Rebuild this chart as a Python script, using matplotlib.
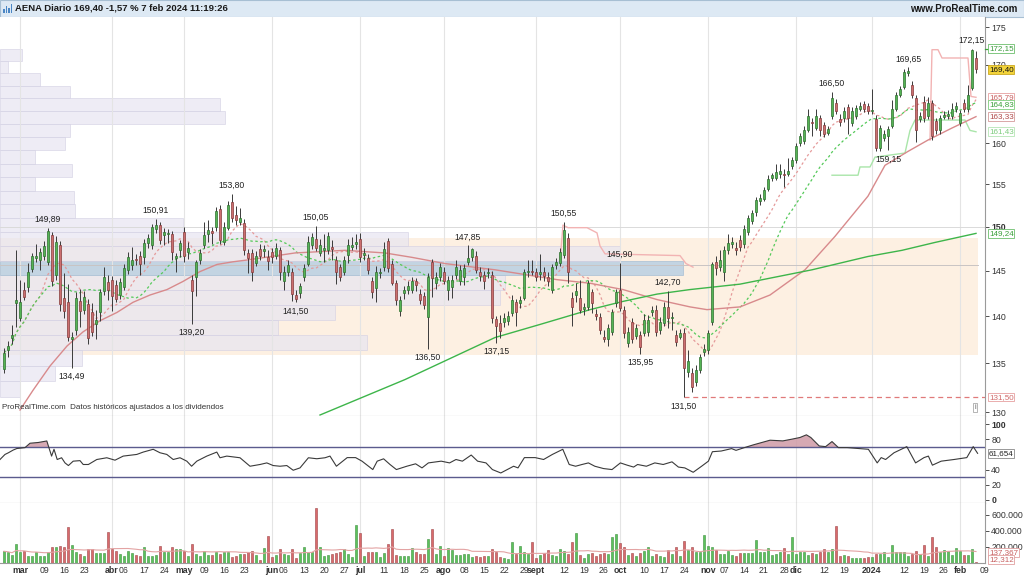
import numpy as np
import pandas as pd
import matplotlib
matplotlib.use("Agg")
import matplotlib.pyplot as plt
from matplotlib.patches import Rectangle
from matplotlib.ticker import FixedLocator, NullLocator

plt.rcParams['font.family'] = ['Liberation Sans', 'DejaVu Sans']

# ---------------- data (daily candles 23 feb 2023 .. 7 feb 2024) ----------------
opens = [134.4,136.4,137.6,141.4,139.8,142.9,143.2,145.2,146.4,146.2,146.7,146.0,149.0,144.5,147.9,142.0,141.5,137.5,138.5,141.6,
140.7,141.3,140.4,139.1,140.4,142.7,143.7,144.0,143.4,142.3,143.2,145.1,145.6,146.3,146.7,146.5,148.1,147.9,149.7,150.2,
149.0,149.2,149.2,146.4,147.3,149.4,147.1,144.0,144.3,146.2,147.9,149.2,149.5,150.0,152.1,148.3,149.9,152.9,151.4,150.6,
150.5,147.0,147.0,145.9,147.5,147.2,146.5,147.1,146.7,147.3,143.8,144.8,144.8,142.3,142.5,144.3,145.8,147.9,148.6,147.0,
147.3,147.3,147.7,146.2,145.4,144.9,146.8,147.7,148.0,148.6,146.8,146.4,143.8,143.1,144.7,145.4,148.4,145.8,143.6,140.5,
142.5,142.9,142.9,143.8,142.4,142.2,139.9,146.0,143.6,144.3,144.9,142.9,143.2,144.5,143.8,144.3,146.0,146.5,146.7,144.8,
144.5,144.7,144.5,139.7,139.3,139.4,139.5,140.3,141.5,141.4,142.0,144.8,145.0,144.8,144.6,144.8,144.3,142.9,145.6,145.9,
146.8,148.7,142.0,142.3,142.0,140.8,141.0,142.6,140.2,139.9,137.8,137.5,138.3,141.4,142.9,140.7,137.1,139.4,137.9,138.0,
138.2,138.3,140.4,140.7,138.5,139.3,141.0,139.8,138.0,137.8,138.2,134.1,134.0,133.0,134.3,136.2,136.4,139.4,146.0,145.4,
144.9,147.3,148.0,147.6,148.5,148.0,149.4,150.7,151.7,153.0,153.3,154.5,155.8,155.8,156.3,156.3,156.3,157.2,157.9,160.0,
160.3,161.7,162.7,161.9,163.1,162.3,161.3,163.4,165.1,163.0,163.1,164.5,162.5,163.4,164.3,164.9,164.7,164.0,163.0,159.4,
160.7,160.9,162.2,164.3,166.1,167.1,168.9,167.4,165.7,163.0,165.2,163.4,165.0,162.8,161.6,163.3,163.4,163.4,164.3,162.5,
165.1,164.3,167.0,170.9]
highs = [136.6,137.3,139.0,147.3,144.0,143.7,145.9,147.0,148.0,147.6,148.4,149.89,149.4,148.9,148.4,144.7,143.5,138.3,142.6,143.0,
142.7,141.9,141.4,140.7,143.0,145.4,144.5,144.4,144.0,144.2,145.7,147.1,147.7,146.9,147.2,148.6,149.2,150.3,150.91,150.6,
149.9,149.7,149.5,147.0,148.5,150.0,148.2,144.5,146.2,147.4,150.6,150.8,150.0,152.3,152.5,150.6,153.0,153.8,152.4,152.2,
150.9,147.4,147.5,147.2,148.0,147.9,147.3,147.6,148.1,147.7,145.5,146.2,145.3,142.8,143.6,145.7,148.9,149.3,150.05,148.6,
149.2,149.4,148.5,146.6,145.8,146.6,148.6,148.8,149.2,149.3,147.6,146.9,144.3,145.5,145.3,148.2,148.7,146.2,144.0,142.2,
143.3,143.8,144.3,144.2,143.0,142.6,144.7,146.3,144.8,145.9,145.4,144.4,144.5,146.2,145.6,145.8,147.85,147.6,147.2,145.4,
145.0,145.3,145.0,140.0,140.1,140.3,140.5,142.3,141.9,142.2,145.2,146.2,146.2,145.3,146.9,145.4,144.8,145.8,146.4,147.6,
150.55,149.3,142.6,143.6,144.0,141.4,144.0,143.0,140.8,140.3,138.5,139.1,140.8,143.0,145.9,141.1,138.8,139.8,139.2,138.4,
140.2,140.1,141.1,141.2,139.9,141.5,142.7,140.4,138.5,138.6,138.7,136.4,134.5,134.8,136.0,137.0,138.5,146.0,146.6,147.3,
147.8,149.2,148.8,148.2,149.0,150.2,151.4,152.0,153.5,153.9,154.7,156.1,156.4,157.5,157.5,156.8,158.2,158.3,160.0,161.3,
162.1,164.3,163.2,164.3,163.5,162.7,162.2,166.5,165.6,163.6,164.6,164.9,164.5,164.8,165.2,165.3,165.1,166.8,163.5,162.3,
161.7,162.1,165.4,166.5,167.2,169.4,169.65,167.9,166.1,163.9,165.9,165.8,165.4,163.2,163.5,164.0,164.2,165.1,165.2,164.2,
165.6,167.4,172.15,171.8]
lows = [134.0,135.6,137.0,138.8,139.5,141.8,142.6,144.8,146.0,145.1,146.2,145.6,143.3,144.0,140.6,139.8,137.3,134.49,138.0,138.8,
140.2,137.0,137.9,137.5,139.5,142.3,141.8,140.6,141.5,141.9,142.8,144.6,145.1,145.6,144.5,145.7,147.6,147.5,149.3,148.0,
147.9,148.1,146.2,144.9,146.5,146.0,146.3,139.2,142.2,145.8,147.6,148.3,148.0,149.5,148.0,147.9,149.6,150.6,150.2,150.2,
146.8,144.7,143.8,145.5,146.2,146.5,145.1,145.9,146.3,144.0,142.9,144.4,141.6,141.5,142.0,143.9,145.5,147.4,147.2,146.6,
146.0,146.9,146.2,143.5,143.9,144.5,145.9,147.3,147.5,146.0,146.2,144.6,142.0,141.5,144.2,145.0,144.9,143.4,141.2,140.0,
141.9,142.4,142.5,142.7,141.3,140.8,136.5,142.1,143.0,143.9,143.5,141.8,142.0,144.1,143.4,143.4,145.6,146.1,144.7,143.9,
143.0,144.2,139.3,137.15,137.7,138.8,139.0,140.0,138.9,140.9,141.7,144.3,144.5,143.9,144.0,143.9,143.3,142.5,145.2,145.5,
146.4,143.6,138.9,141.5,140.3,140.1,140.7,140.3,139.6,138.1,137.2,136.8,138.0,141.0,140.5,137.7,136.7,137.1,137.5,135.95,
137.9,137.9,140.0,137.9,138.1,138.9,138.7,138.5,136.8,137.5,131.5,133.6,132.0,132.6,134.0,135.8,136.0,139.0,144.5,145.0,
143.8,146.9,147.6,146.8,147.2,147.6,149.0,150.3,151.3,152.6,153.0,154.2,155.4,155.5,155.8,154.7,156.0,156.9,157.6,159.7,
159.9,161.4,160.9,161.6,160.9,160.8,161.0,163.0,163.7,162.1,162.7,161.2,162.1,163.0,164.0,163.9,163.7,163.6,159.0,159.0,
160.3,159.15,161.9,164.0,165.8,166.8,168.5,165.7,160.1,162.6,162.7,163.0,160.4,161.2,161.2,163.0,163.0,163.0,163.9,162.1,
163.9,163.9,166.7,168.9]
closes = [136.1,136.8,138.0,141.8,141.5,142.1,144.9,146.6,146.6,147.1,147.8,149.5,143.8,148.3,141.3,140.5,137.8,137.8,142.0,140.5,
142.1,137.7,138.3,139.6,142.6,144.3,142.9,142.2,141.9,143.7,145.3,146.5,146.2,146.2,145.8,148.1,148.7,150.0,150.2,148.5,
149.4,149.3,147.1,146.7,148.1,146.6,147.6,142.7,146.0,147.0,149.0,149.6,149.3,151.9,148.5,150.0,152.5,151.0,150.8,151.0,
147.3,146.4,144.8,146.7,146.7,147.4,146.1,146.5,147.6,144.8,144.8,145.6,142.4,141.9,143.3,145.3,148.3,148.8,147.6,147.9,
147.6,148.9,147.5,144.9,144.3,146.2,147.9,147.9,148.2,146.5,147.0,145.1,142.6,144.9,144.9,147.5,145.3,143.6,141.8,141.8,
142.9,143.3,143.8,143.4,141.8,141.2,144.3,144.2,144.3,145.4,143.9,144.0,144.0,145.4,145.1,145.3,146.4,147.5,145.1,144.4,
143.8,144.9,139.8,138.9,138.4,139.8,140.0,141.8,140.4,141.8,144.8,145.0,144.9,144.3,144.9,144.4,143.8,145.4,146.0,147.1,
149.6,144.9,141.0,142.7,140.7,141.0,143.6,141.4,140.0,138.5,137.5,138.7,140.4,142.6,140.9,138.2,138.3,137.5,138.7,136.7,
139.6,139.6,140.7,138.3,139.4,141.0,139.8,139.9,137.2,138.2,134.5,135.2,132.5,134.3,135.6,136.5,138.2,145.7,145.3,146.2,
147.3,148.1,148.3,147.3,147.7,149.8,151.0,151.6,153.1,153.4,154.3,155.7,156.1,156.5,156.6,156.1,156.6,157.9,159.7,160.9,
161.7,163.4,162.5,163.4,161.6,161.2,161.8,165.7,164.1,162.6,164.1,163.1,164.1,164.4,164.7,164.3,164.1,164.2,159.4,161.9,
161.2,161.8,164.3,166.1,166.8,169.0,169.2,166.1,161.6,163.4,163.1,165.0,160.9,161.6,163.1,163.5,163.7,164.3,164.7,163.8,
164.3,166.1,172.0,169.4]
volumes_k = [146,133,104,238,133,154,92,92,133,92,92,133,204,204,217,196,446,225,142,113,
92,175,175,125,121,125,384,175,146,113,83,146,125,100,92,196,92,92,100,217,
142,142,204,175,175,146,92,238,113,92,146,100,100,142,113,133,133,71,92,113,
113,142,154,100,42,183,334,71,100,175,113,100,175,63,121,196,133,133,684,196,
92,104,113,121,142,175,113,79,467,375,92,142,142,142,71,121,238,425,104,92,
92,92,183,142,113,113,300,425,113,208,92,183,163,100,100,113,113,71,92,71,
92,92,175,133,71,58,50,259,
113,208,133,113,267,58,104,121,167,100,92,175,150,113,259,375,104,58,113,121,
92,113,125,113,321,363,246,196,104,125,92,125,146,196,83,113,92,71,167,113,
196,83,279,167,196,133,133,342,217,204,163,113,113,154,104,92,121,121,121,121,
292,133,142,183,100,113,133,183,113,321,113,142,133,100,121,113,133,175,133,175,
459,92,100,92,58,58,58,58,71,71,113,113,133,79,225,133,133,133,92,113,
154,113,225,92,321,204,133,163,146,104,183,146,104,104,175,12]

# RSI (position in trading days, value)
rsi_pos = [-5,-3.75,-2.9,-1.7,-0.8,1.25,2.5,4.6,6.7,7.9,8.5,9.3,10.4,11.25,12.1,13.3,15,15.8,17.1,19.2,
21.7,23.75,25.8,29.2,30.8,33.3,35,36.7,38.3,40,41.7,42.9,44.2,46.7,49.2,50,51.7,53.3,55,57.5,
60,61.7,63.3,65,66.7,68.3,70,72.1,74.2,76.25,
77.5,79.1,81.8,83.9,85.5,88.2,89.3,90.9,92.5,94.1,96.7,98.9,100.5,102.1,105.3,107.4,109.0,110.6,112.8,114.4,
116.5,118.1,120.2,121.8,123.4,124.5,126.1,128.8,130.9,133.1,135.7,137.3,138.9,140.5,142.1,143.7,145.9,148.0,150.1,151.8,
153.4,154.4,156.6,158.7,160.8,163.0,164.6,166.2,168.3,170.4,172.1,173.1,175.3,177.9,179.0,181.1,183.3,185.4,187.5,190.7,
192.9,195.0,196.6,197.7,199.8,201.4,203.0,204.6,206.8,208.9,212.1,214.3,215.3,216.4,218.5,221.7,223.9,226.0,227.1,228.1,
230.3,233.5,236.7,238.3,239.4]
rsi_val = [53.5,60.2,62.4,66,68,69.2,75,76,78,58,67,53.5,55.8,49,45.5,51.3,52,46.9,46.9,53.5,
55.8,52.6,58,60.2,63.3,67,62.4,60.2,53.5,55.8,51.3,44.6,51.3,58,63.3,55.8,58,57,55.8,44.6,
46.9,49,45.5,44.6,45.5,39.3,42.4,55.8,54.5,55.8,
58,44.6,56,56,51.3,40.2,51.3,54.4,46.9,40.2,44.6,47.8,42.4,49,51.3,49,53.5,51.3,59.4,51.3,
49,40.2,35.7,40.2,44.6,42.4,56,56,53.5,60.2,67,46.9,44.6,46.9,49,44.6,41.5,40.2,49,46,
43.5,46.9,44.6,49,46.9,50.4,43.5,42.4,36.6,44.6,51.3,63.8,64.7,67.9,65.6,69.2,72.8,75.9,79,78.1,
80.3,82.6,86.1,82.6,71.4,70.5,77.2,69.2,69.2,68.3,67,49,56,53.5,62.4,70.5,49,56,58,46,
51.3,53.5,56,70.5,61.654]

# slow moving averages
ma_red_pos = [0,3.25,7.5,11.75,15.75,20,24.25,28.25,32.5,36.75,40.75,45,49.25,53.25,56.75,68.75,81.25,91.25,98,106.25,
118.75,134.25,142.5,150.75,159.25,167.5,171.75,180,187.5,196.25,203.75,212,216.25,222,227,233,239]
ma_red_val = [130.2,132.2,134.7,136.8,138.3,139.5,140.4,141.5,142.3,142.9,143.8,144.9,145.7,146.0,146.2,147.0,147.3,147.0,146.5,145.8,
145.1,144.0,143.6,142.9,141.8,141.0,140.7,141.0,142.3,145.1,148.9,153.6,157.3,159.0,160.4,161.9,163.33]
ma_green_pos = [75,96.25,118.75,130,142.5,150.75,159.25,167.5,180,198,212,220.5,228.75,239]
ma_green_val = [129.7,133.3,137.7,139.1,140.7,141.6,142.4,142.9,143.5,145.1,146.6,147.3,148.2,149.24]

# trailing stop lines (partial, as visible)
stop_up_pos = [[135,135.75,137,141.75,144.25,145,146.25,165,166.5,168.25],
               [227.5,228,229.5,230.5,237,237.75,239]]
stop_up_val = [[146.0,150.2,149.9,149.9,149.3,147.8,146.9,146.7,145.8,145.4],
               [160.4,172.0,172.0,170.9,170.9,165.9,165.79]]
stop_dn_pos = [203,209.5,210,212.5,213.75,221.25,222.5,223.75,236.25,237.5,239]
stop_dn_val = [156.1,156.1,157.1,157.1,158.3,158.8,161.6,162.9,162.9,161.6,161.43]

# volume-at-price profile (relative volume per price row, bottom to top)
profile_vol = [20,55,82,367,278,335,500,505,683,620,408,183,75,74,35,72,35,65,70,225,220,70,40,8,22]
value_area = (135.9, 148.7)

# labelled extremes: (day, value, above?)
extremes = [(7,149.89,True),(13,134.49,False),(34,150.91,True),(43,139.20,False),(53,153.80,True),
            (69,141.50,False),(74,150.05,True),(102,136.50,False),(112,147.85,True),(119,137.15,False),
            (136,150.55,True),(150,145.90,True),(155,135.95,False),(162,142.70,True),(166,131.50,False),
            (203,166.50,True),(217,159.15,False),(222,169.65,True),(238,172.15,True)]

holidays = ['2023-04-07','2023-04-10','2023-05-01','2023-12-25','2023-12-26','2024-01-01']
tick_dates = ['2023-03-01','2023-03-09','2023-03-16','2023-03-23','2023-04-03','2023-04-06','2023-04-17','2023-04-24',
              '2023-05-02','2023-05-09','2023-05-16','2023-05-23','2023-06-01','2023-06-06','2023-06-13','2023-06-20',
              '2023-06-27','2023-07-03','2023-07-11','2023-07-18','2023-07-25','2023-08-01','2023-08-08','2023-08-15',
              '2023-08-22','2023-08-29','2023-09-01','2023-09-12','2023-09-19','2023-09-26','2023-10-02','2023-10-10',
              '2023-10-17','2023-10-24','2023-11-01','2023-11-07','2023-11-14','2023-11-21','2023-11-28','2023-12-01',
              '2023-12-12','2023-12-19','2024-01-02','2024-01-12','2024-01-19','2024-01-26','2024-02-01','2024-02-09']
tick_labels = ['mar','09','16','23','abr','06','17','24','may','09','16','23','jun','06','13','20','27',
               'jul','11','18','25','ago','08','15','22','29','sept','12','19','26','oct','10','17','24',
               'nov','07','14','21','28','dic','12','19','2024','12','19','26','feb','09']
month_labels = {'mar','abr','may','jun','jul','ago','sept','oct','nov','dic','2024','feb'}

price_ticks = [130, 135, 140, 145, 150, 155, 160, 170, 175]
rsi_ticks = [0, 20, 40, 80, 100]
vol_ticks_k = [200, 400, 600]

# ---------------- figure ----------------
W, H = 1024, 576
fig = plt.figure(figsize=(10.24, 5.76), dpi=100)
fig.patch.set_facecolor('white')

def px_axes(x0, y0, x1, y1):
    return fig.add_axes([x0 / W, 1 - y1 / H, (x1 - x0) / W, (y1 - y0) / H])

ax_p = px_axes(0, 17, 985, 416)
ax_r = px_axes(0, 416, 985, 503)
ax_v = px_axes(0, 503, 985, 563)

cal = pd.bdate_range('2023-02-23', '2024-02-09', freq='C', holidays=holidays)
pos = {d.strftime('%Y-%m-%d'): k - 4 for k, d in enumerate(cal)}
tick_pos = [pos[d] for d in tick_dates]
month_pos = [p for p, lb in zip(tick_pos, tick_labels) if lb in month_labels]

o = np.array(opens); h = np.array(highs); l = np.array(lows); c = np.array(closes)
n = len(c)
idx = np.arange(n) - 4
up = c >= o
XL = (-5, 241.25)

grid_c = '#e4e4e4'
spine_c = '#9a9a9a'
txt_c = '#333333'

for ax in (ax_p, ax_r, ax_v):
    ax.set_xlim(*XL)
    ax.set_facecolor('white')
    for s in ('left', 'top'):
        ax.spines[s].set_visible(False)
    for s in ('right', 'bottom'):
        ax.spines[s].set_color(spine_c)
        ax.spines[s].set_linewidth(0.8)
    for mp in month_pos:
        ax.axvline(mp, color=grid_c, lw=0.8, zorder=1)
    ax.yaxis.tick_right()
    ax.tick_params(axis='y', length=3, width=0.6, pad=1.5, labelsize=6.3, colors=txt_c)
    ax.tick_params(axis='x', length=0)

# ---- price panel
ax_p.set_yscale('log')
ax_p.set_ylim(129.6, 176.4)
ax_p.yaxis.set_major_locator(FixedLocator(price_ticks))
ax_p.yaxis.set_minor_locator(NullLocator())
ax_p.set_yticklabels([str(t) for t in price_ticks])
for t in ax_p.get_yticklabels():
    if t.get_text() == '150':
        t.set_fontweight('bold')
ax_p.set_xticks([])

# value area and profile
ax_p.add_patch(Rectangle((-5, value_area[0]), 239.5 + 5, value_area[1] - value_area[0],
                         facecolor='#fdf0e2', edgecolor='none', zorder=0.3))
edges = np.linspace(131.5, 172.15, len(profile_vol) + 1)
pmax = max(profile_vol)
for k, v in enumerate(profile_vol):
    wdt = v / pmax * 170.75
    poc = (v == pmax)
    ax_p.add_patch(Rectangle((-5, edges[k]), wdt, edges[k + 1] - edges[k],
                             facecolor='#b9d0e2' if poc else '#e7e5f1',
                             edgecolor='#a9c0d4' if poc else '#d3d0e3',
                             lw=0.6, alpha=0.85 if poc else 0.7, zorder=0.5))
ax_p.axhline(150, color='#dadada', lw=0.7, zorder=1)
ax_p.plot([-5, 239.5], [145.6, 145.6], color='#c9c4c4', lw=0.7, zorder=1.1)

# moving averages
cs = pd.Series(c)
sma10 = cs.rolling(10, min_periods=1).mean()
sma20 = cs.rolling(20, min_periods=1).mean()
ax_p.plot(idx, sma10, color='#e59a9a', lw=0.9, ls=(0, (2, 2)), zorder=2)
ax_p.plot(idx, sma20, color='#55c95a', lw=0.9, ls=(0, (2, 2)), zorder=2)
ax_p.plot(ma_red_pos, ma_red_val, color='#d88a8c', lw=1.0, zorder=2)
ax_p.plot(ma_green_pos, ma_green_val, color='#3db54a', lw=1.0, zorder=2)
for pp, vv in zip(stop_up_pos, stop_up_val):
    ax_p.plot(pp, vv, color='#f2b3b3', lw=1.0, zorder=1.8)
ax_p.plot(stop_dn_pos, stop_dn_val, color='#a9e5a9', lw=1.0, zorder=1.8)

# low marker line
ax_p.plot([166, 241.25], [131.5, 131.5], color='#e07a7a', lw=0.9, ls=(0, (4, 3)), zorder=2)

# candles
col_up, col_dn = '#55b455', '#cc6f70'
ed_up, ed_dn = '#2e6e2e', '#843a3a'
ax_p.vlines(idx, l, h, color='#3a3a3a', lw=0.7, zorder=3)
body_lo = np.minimum(o, c)
body_h = np.maximum(np.abs(c - o), 0.08)
ax_p.bar(idx, body_h, bottom=body_lo, width=0.72,
         color=np.where(up, col_up, col_dn), edgecolor=np.where(up, ed_up, ed_dn),
         linewidth=0.5, zorder=4)

for d, v, above in extremes:
    ax_p.annotate(f"{v:.2f}".replace('.', ','), (d, v), xytext=(0, 3 if above else -3),
                  textcoords='offset points', ha='center', va='bottom' if above else 'top',
                  fontsize=6.2, color='#222222', zorder=6)

ax_p.text(2 / 985, 0.012, 'ProRealTime.com  Datos históricos ajustados a los dividendos',
          transform=ax_p.transAxes, fontsize=5.8, color='#333333', va='bottom', ha='left')
ax_p.text(0.9898, 0.012, 'i', transform=ax_p.transAxes, fontsize=5, color='#555555',
          ha='center', va='bottom',
          bbox=dict(boxstyle='square,pad=0.15', fc='white', ec='#999999', lw=0.5))

ytr = ax_p.get_yaxis_transform()
ax_p.plot([1.0, 1.012], [172.15, 172.15], transform=ytr, color='#3aa53a', lw=0.9, clip_on=False, zorder=5)

def value_box(ax, y, text, fc, ec, tc):
    ax.text(1.004, y, text, transform=ax.get_yaxis_transform(), fontsize=5.8, color=tc,
            ha='left', va='center', zorder=10, clip_on=False,
            bbox=dict(boxstyle='square,pad=0.1', fc=fc, ec=ec, lw=0.6))

value_box(ax_p, 172.15, '172,15', 'white', '#6cbf6c', '#3a9a3a')
value_box(ax_p, 169.40, '169,40', '#f2d33a', '#caa820', '#111111')
value_box(ax_p, 165.79, '165,79', 'white', '#e6a0a0', '#c86060')
value_box(ax_p, 164.83, '164,83', 'white', '#7dcf7d', '#3aa03a')
value_box(ax_p, 163.33, '163,33', 'white', '#d49a9a', '#b04848')
value_box(ax_p, 161.43, '161,43', 'white', '#b5e5b5', '#7dcc7d')
value_box(ax_p, 149.24, '149,24', 'white', '#6cbf6c', '#3aa03a')
value_box(ax_p, 131.50, '131,50', 'white', '#e6a0a0', '#d06a6a')

# ---- RSI panel
ax_r.set_ylim(-4, 111)
ax_r.yaxis.set_major_locator(FixedLocator(rsi_ticks))
ax_r.set_yticklabels([str(t) for t in rsi_ticks])
for t in ax_r.get_yticklabels():
    if t.get_text() in ('0', '100'):
        t.set_fontweight('bold')
ax_r.set_xticks([])
rp = np.array(rsi_pos); rv = np.array(rsi_val)
ax_r.fill_between(rp, rv, 70, where=rv > 70, interpolate=True, color='#cf9aa6', alpha=0.85, lw=0, zorder=2)
ax_r.axhline(70, color='#5b5b8e', lw=1.0, zorder=2.5)
ax_r.axhline(30, color='#5b5b8e', lw=1.0, zorder=2.5)
ax_r.plot(rp, rv, color='#3a3a3a', lw=0.8, zorder=3)
value_box(ax_r, 61.654, '61,654', 'white', '#888888', '#222222')

# ---- volume panel
vk = np.array(volumes_k, dtype=float)
ax_v.set_ylim(0, 746)
ax_v.yaxis.set_major_locator(FixedLocator(vol_ticks_k))
ax_v.set_yticklabels([f"{t}.000" for t in vol_ticks_k])
ax_v.bar(idx, vk, width=0.72, color=np.where(up, '#5cc25c', '#d96a6c'),
         edgecolor=np.where(up, '#3c8f3c', '#9e4446'), linewidth=0.4, zorder=3)
vma = pd.Series(vk).rolling(20, min_periods=1).mean()
ax_v.plot(idx, vma, color='#e3a3a3', lw=0.8, zorder=4)
value_box(ax_v, 134, '137,367', 'white', '#e0a0a0', '#c86060')
value_box(ax_v, 40, '12,312', 'white', '#e0a0a0', '#c86060')

ax_v.set_xticks(tick_pos)
ax_v.set_xticklabels(tick_labels)
ax_v.tick_params(axis='x', labelsize=6.3, colors=txt_c, pad=2)
for t in ax_v.get_xticklabels():
    if t.get_text() in month_labels:
        t.set_fontweight('bold')

# ---- header bar
fig.add_artist(Rectangle((0, 1 - 17 / H), 1, 17 / H, transform=fig.transFigure,
                         facecolor='#dde9f4', edgecolor='#a7bfd3', lw=0.8, zorder=0))
for k, hh in enumerate([4, 7, 5, 9]):
    fig.add_artist(Rectangle(((3 + k * 2.5) / W, 1 - 13 / H), 1.6 / W, hh / H,
                             transform=fig.transFigure, facecolor='#4a86c5', edgecolor='none'))
fig.text(15 / W, 1 - 8.5 / H, 'AENA Diario 169,40 -1,57 % 7 feb 2024 11:19:26',
         fontsize=6.8, fontweight='bold', color='#1a1a1a', va='center', ha='left')
fig.text(1017 / W, 1 - 8.5 / H, 'www.ProRealTime.com', fontsize=7, fontweight='bold',
         color='#1a1a1a', va='center', ha='right')

fig.savefig('out.png', dpi=100)
